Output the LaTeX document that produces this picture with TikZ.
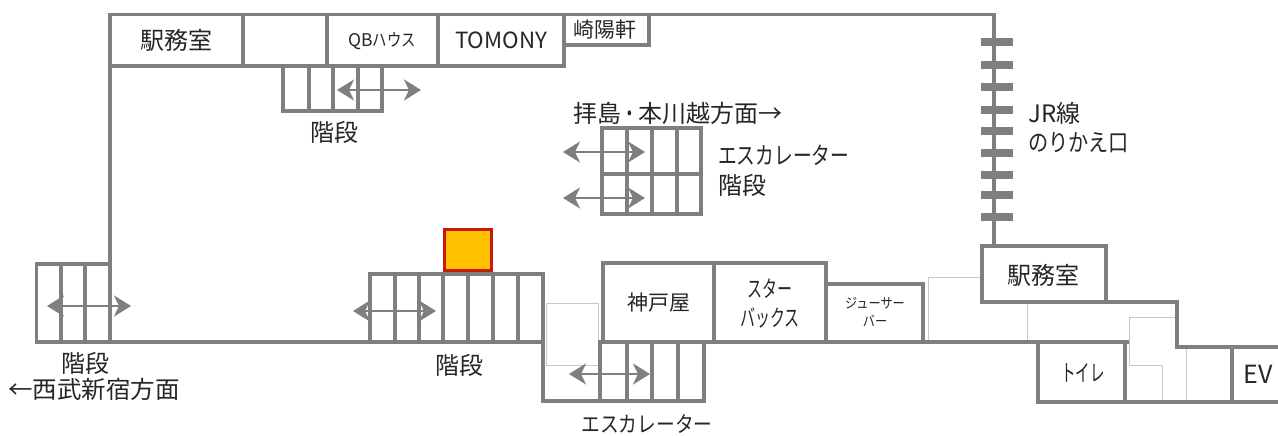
\documentclass[tikz,border=0pt]{standalone}
\usepackage{fontspec}
\usepackage{graphicx}
\setmainfont{Noto Sans CJK JP}
\usetikzlibrary{arrows.meta}
\definecolor{wall}{HTML}{7F7F7F}
\definecolor{thin}{HTML}{C8C8C8}
\definecolor{ink}{HTML}{262626}
\newcommand{\nar}[2][0.78]{\scalebox{#1}[1]{#2}}
\tikzset{
  wallline/.style={draw=wall,line width=3.8pt,line join=miter,line cap=rect},
  thinline/.style={draw=thin,line width=1pt},
  dirarrow/.style={draw=wall,line width=2.4pt,{Stealth[length=17pt,width=21pt,inset=5pt]}-{Stealth[length=17pt,width=21pt,inset=5pt]}},
  lab/.style={inner sep=0pt,text=ink,font=\fontsize{24}{28}\selectfont,align=center},
  smalllab/.style={inner sep=0pt,text=ink,font=\fontsize{17.5}{21}\selectfont,align=center},
  tinylab/.style={inner sep=0pt,text=ink,font=\fontsize{14}{18}\selectfont,align=center},
  tick/.style={fill=wall,draw=none,minimum width=32pt,minimum height=8.5pt,inner sep=0pt,outer sep=0pt},
}
\begin{document}
\begin{tikzpicture}[x=1pt,y=-1pt]
\useasboundingbox (0,0) rectangle (1278,436);
\fill[white] (0,0) rectangle (1278,436);
% thin outlines
\draw[thinline] (546,342) -- (546,303) -- (598,303) -- (598,342);
\draw[thinline] (546,342) -- (546,365) -- (598,365);
\draw[thinline] (928,342) -- (928,277) -- (980,277);
\draw[thinline] (1027,304) -- (1027,342);
\draw[thinline] (1129,365) -- (1129,317) -- (1177,317);
\draw[thinline] (1129,365) -- (1162,365) -- (1162,402);
\draw[thinline] (1186,349) -- (1186,402);
% outer walls and top rooms
\draw[wallline] (110,264) -- (110,14.5) -- (994,14.5) -- (994,246);
\draw[wallline] (110,66) -- (438,66);
\draw[wallline] (438,66) -- (564,66) -- (564,45) -- (649,45) -- (649,14.5);
\draw[wallline] (243,14.5) -- (243,66);
\draw[wallline] (327,14.5) -- (327,66);
\draw[wallline] (438,14.5) -- (438,66);
\draw[wallline] (564,14.5) -- (564,45);
% upper stairs
\draw[wallline] (283,66) -- (283,111) -- (382,111) -- (382,66);
\foreach \x in {309,333,358} \draw[wallline] (\x,66) -- (\x,111);
% middle escalator block
\draw[wallline] (602,128) rectangle (701,214);
\draw[wallline] (602,174) -- (701,174);
\foreach \x in {627,652,677} \draw[wallline] (\x,128) -- (\x,214);
% lower left stairs and floor line
\draw[wallline] (110,264) -- (36.5,264) -- (36.5,342) -- (543,342);
\draw[wallline] (110,264) -- (110,342);
\foreach \x in {61,85} \draw[wallline] (\x,264) -- (\x,342);
% lower middle stairs
\draw[wallline] (370,342) -- (370,274) -- (543,274) -- (543,401);
\foreach \x in {395,419,443,468,493,518} \draw[wallline] (\x,274) -- (\x,342);
% lower escalator
\draw[wallline] (543,401) -- (704,401) -- (704,342);
\draw[wallline] (600,342) -- (600,401);
\foreach \x in {627,652,678} \draw[wallline] (\x,342) -- (\x,401);
% lower shops
\draw[wallline] (603,342) -- (603,263) -- (826,263) -- (826,342);
\draw[wallline] (714,263) -- (714,342);
\draw[wallline] (826,284) -- (923,284) -- (923,342);
\draw[wallline] (600,342) -- (1127,342);
% station office and right end
\draw[wallline] (982,246) rectangle (1106,302);
\draw[wallline] (1106,302) -- (1177,302) -- (1177,347) -- (1276,347);
\draw[wallline] (1038,342) -- (1038,402) -- (1276,402);
\draw[wallline] (1125,342) -- (1125,402);
\draw[wallline] (1232,347) -- (1232,402);
% JR gates
\foreach \y/\n in {42/a,65/b,87/c,110/d,131/e,153/f,175/g,195/h,217/i}
  \node[tick] (gate\n) at (997,\y) {};
% kiosk
\node[draw={rgb,255:red,200;green,25;blue,10},line width=3.4pt,fill={rgb,255:red,255;green,192;blue,0},minimum width=47pt,minimum height=41pt,inner sep=0pt,outer sep=0pt] (kiosk) at (468,250) {};
% direction arrows
\coordinate (a1s) at (337,90); \coordinate (a1e) at (421,90);
\coordinate (a2s) at (563,152); \coordinate (a2e) at (645,152);
\coordinate (a3s) at (563,198); \coordinate (a3e) at (645,198);
\coordinate (a4s) at (47,306); \coordinate (a4e) at (131,306);
\coordinate (a5s) at (353,311); \coordinate (a5e) at (436,311);
\coordinate (a6s) at (569,374); \coordinate (a6e) at (650,374);
\foreach \n in {a1,a2,a3,a4,a5,a6} \draw[dirarrow] (\n s) -- (\n e);
% labels
\node[lab] (t1) at (176,40) {駅務室};
\node[smalllab] (t2) at (382,41) {QB\nar[0.82]{ハウス}};
\node[lab,font=\fontsize{22.3}{26}\selectfont] (t3) at (501,40) {TOMONY};
\node[lab,font=\fontsize{21}{24}\selectfont] (t4) at (605,30) {崎陽軒};
\node[lab] (t5) at (334,132) {階段};
\node[lab,anchor=west] (t6) at (573,113) {拝島\nar[0.7]{・}本川越方面→};
\node[lab,anchor=west] (t7) at (718,155) {\nar{エスカレーター}};
\node[lab,anchor=west] (t8) at (718,185) {階段};
\node[lab,anchor=west] (t9) at (1028,113) {JR線};
\node[lab,anchor=west] (t10) at (1028,143) {\nar[0.84]{のりかえ口}};
\node[lab] (t11) at (85,363) {階段};
\node[lab,anchor=west] (t12) at (8,389) {\nar[1.02]{←西武新宿方面}};
\node[lab] (t13) at (459,365) {階段};
\node[lab,font=\fontsize{22}{26}\selectfont] (t14) at (647,424) {\nar[0.85]{エスカレーター}};
\node[lab,font=\fontsize{21}{24}\selectfont] (t15) at (659,303) {神戸屋};
\node[lab,font=\fontsize{23}{29}\selectfont] (t16) at (770,303) {\nar[0.65]{スター}\\\nar[0.65]{バックス}};
\node[tinylab] (t17) at (875,312) {\nar[0.87]{ジューサー}\\\nar[0.87]{バー}};
\node[lab,font=\fontsize{23}{24}\selectfont] (t19) at (1083,373) {\nar[0.63]{トイレ}};
\node[lab] (t18) at (1043,275) {駅務室};
\node[lab,font=\fontsize{25}{28}\selectfont] (t20) at (1258,374) {EV};
\end{tikzpicture}
\end{document}
